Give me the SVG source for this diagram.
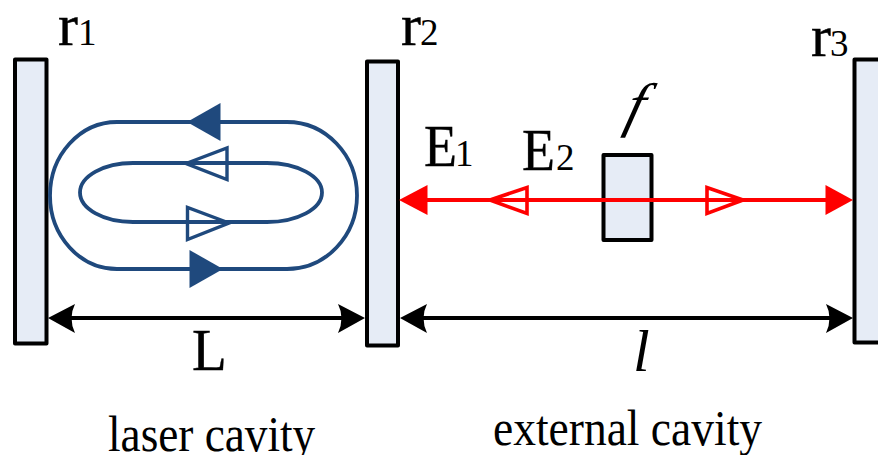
<svg xmlns="http://www.w3.org/2000/svg" width="878" height="455" viewBox="0 0 878 455">
<style>
text{font-family:"Liberation Serif","Times New Roman",serif;fill:#000}
.m{fill:#e6ecf6;stroke:#000;stroke-width:4;stroke-linejoin:round}
.b{fill:none;stroke:#1f497d;stroke-width:3.8}
.bf{fill:#1f497d;stroke:none}
.bh{fill:none;stroke:#1f497d;stroke-width:3.4}
.r{stroke:#f00;stroke-width:4;fill:none}
.rf{fill:#f00;stroke:none}
.rh{fill:none;stroke:#f00;stroke-width:3.6}
.d{stroke:#000;stroke-width:3.8;fill:none}
.s{fill:#000;stroke:none}
.big{font-size:60px;stroke:#000;stroke-width:.4}
.sub{font-size:37px}
.cap{font-size:50px}
.it{font-style:italic;font-size:60px}
</style>
<rect width="878" height="455" fill="#fff"/>
<g id="mirror-r1"><rect class="m" x="15" y="59.500" width="31.500" height="284"/><text class="big" x="58" y="45">r</text><text class="sub" x="78" y="45">1</text></g>
<g id="mirror-r2"><rect class="m" x="367" y="61.500" width="31" height="284"/><text class="big" x="401" y="45">r</text><text class="sub" x="420" y="45">2</text></g>
<g id="mirror-r3"><rect class="m" x="854.500" y="59.500" width="40" height="283"/><text class="big" x="811" y="56">r</text><text class="sub" x="830" y="56">3</text></g>
<g id="filter-f"><rect class="m" x="603.500" y="155" width="48" height="85"/><text class="it" transform="translate(623 125) skewX(-15)">f</text></g>
<g id="connectors">
<g id="outer-loop"><path class="b" d="M117 122H287A70 73.500 0 0 1 287 269H117A67 73.500 0 0 1 117 122Z"/>
<path class="bf" d="M187 122L220.500 103V141Z"/><path class="bf" d="M223 269L189.500 250V288Z"/></g>
<g id="inner-loop"><path class="b" d="M133 163H267A55 29.500 0 0 1 267 222H133A53 29.500 0 0 1 133 163Z"/>
<path class="bh" d="M186 163.500L227 148V179.500Z"/><path class="bh" d="M229 223L187.500 207.500V239.500Z"/></g>
<g id="red-beam"><path class="r" d="M420 200H830"/>
<path class="rf" d="M399 200L427.500 185V215Z"/><path class="rf" d="M853 200L825.500 185V215Z"/>
<path class="rh" d="M490 200L527 187.500V213.500Z"/><path class="rh" d="M743 200L707 187.500V213.500Z"/></g>
<g id="dim-L"><path class="d" d="M60 318H355"/><path class="s" d="M48 318L75 304Q68 318 75 333Z"/><path class="s" d="M365 318L338 304Q345 318 338 333Z"/></g>
<g id="dim-l"><path class="d" d="M412 318H840"/><path class="s" d="M400 318L427 304Q420 318 427 333Z"/><path class="s" d="M853 318L826 304Q833 318 826 333Z"/></g>
</g>
<g id="labels">
<text class="big" transform="translate(424 166) scale(.9 1)">E</text><text class="sub" x="455" y="166">1</text>
<text class="big" transform="translate(522 170) scale(.9 1)">E</text><text class="sub" x="556" y="170">2</text>
<text class="big" transform="translate(192 370) scale(.95 1)">L</text>
<text class="it" x="633" y="371">l</text>
<text class="cap" transform="translate(108 451) scale(.905 1)">laser cavity</text>
<text class="cap" transform="translate(493 445) scale(.91 1)">external cavity</text>
</g>
</svg>
